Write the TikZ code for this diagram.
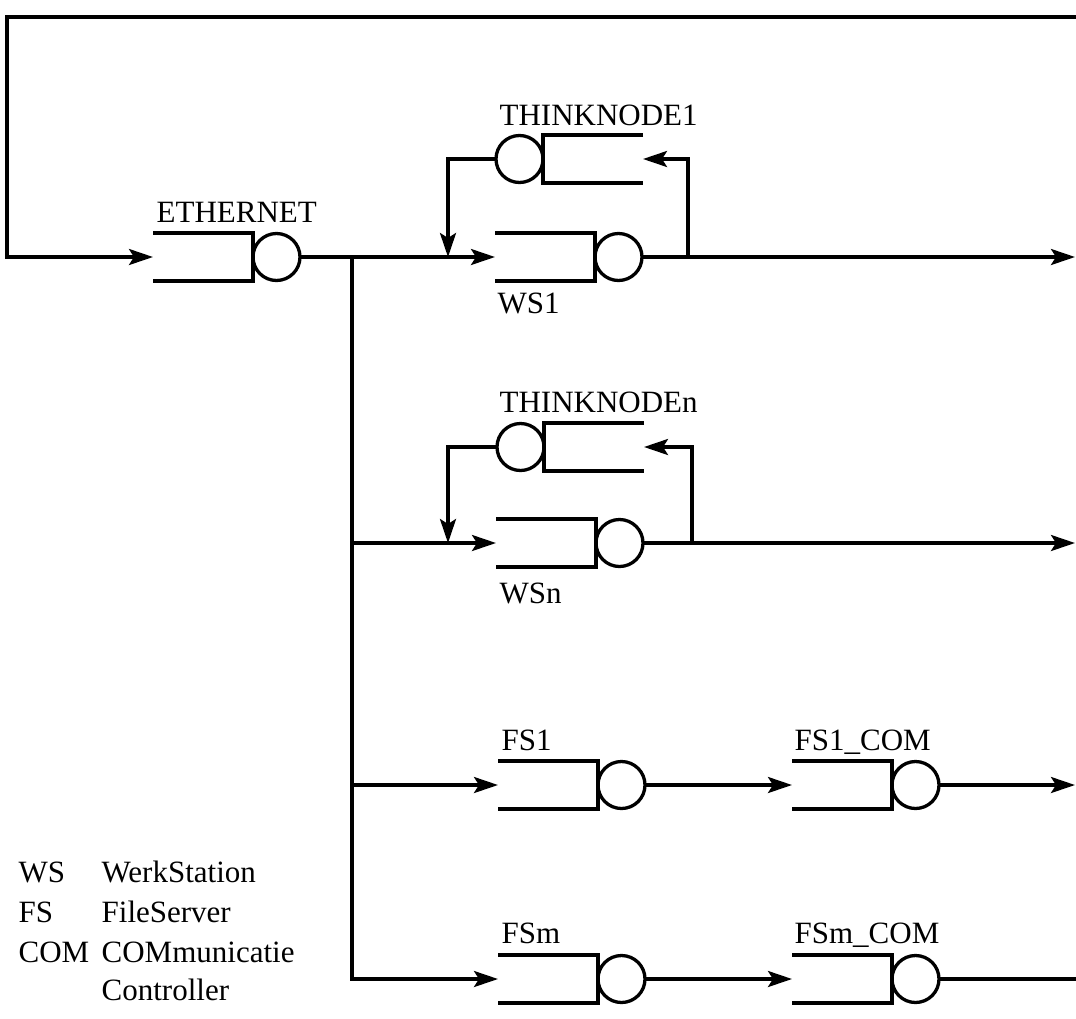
\documentclass[tikz,border=0pt]{standalone}
\usepackage{fontspec}
\setmainfont{Liberation Serif}
\usetikzlibrary{arrows.meta}
\begin{document}
\begin{tikzpicture}[x=1pt,y=-1pt, line width=3.3pt, line join=miter,
  qbox/.style={draw=none, rectangle, minimum width=100pt, minimum height=48pt, inner sep=0pt, outer sep=0pt},
  srv/.style={circle, draw, minimum size=47pt, inner sep=0pt, outer sep=0pt},
  lbl/.style={inner sep=0pt, anchor=base west, font=\fontsize{31}{37}\selectfont},
  flow/.style={-{Stealth[length=24pt,width=16pt,inset=5pt]}},
]
\useasboundingbox (0,0) rectangle (1076,1018);

% queue opening to the left, server on the right
\newcommand\queueR[3]{%
  \node[qbox] (#1q) at (#2,#3) {};
  \node[srv, anchor=west] (#1c) at (#1q.east) {};
  \draw (#1q.north west) -- (#1q.north east) -- (#1q.south east) -- (#1q.south west);
}
% queue opening to the right, server on the left
\newcommand\queueL[3]{%
  \node[qbox] (#1q) at (#2,#3) {};
  \node[srv, anchor=east] (#1c) at (#1q.west) {};
  \draw (#1q.north east) -- (#1q.north west) -- (#1q.south west) -- (#1q.south east);
}

\queueR{eth}{203}{257}
\queueR{wsa}{545}{257}
\queueL{tna}{593}{159}
\queueR{wsn}{546}{543}
\queueL{tnn}{594}{447}
\queueR{fsa}{548}{785}
\queueR{fsacom}{842}{785}
\queueR{fsm}{548}{979}
\queueR{fsmcom}{842}{979}

% labels
\node[lbl] (leth) at (155,222) {ETHERNET};
\node[lbl] (lwsa) at (496,313) {WS1};
\node[lbl] (ltna) at (498,125) {THINKNODE1};
\node[lbl] (lwsn) at (498,603) {WSn};
\node[lbl] (ltnn) at (498,412) {THINKNODEn};
\node[lbl] (lfsa) at (500,750) {FS1};
\node[lbl] (lfsacom) at (793,750) {FS1\_COM};
\node[lbl] (lfsm) at (500,943) {FSm};
\node[lbl] (lfsmcom) at (793,943) {FSm\_COM};

% legend
\node[lbl] (k1) at (17,882) {WS};
\node[lbl] (v1) at (100,882) {WerkStation};
\node[lbl] (k2) at (17,922) {FS};
\node[lbl] (v2) at (100,922) {FileServer};
\node[lbl] (k3) at (17,962) {COM};
\node[lbl] (v3) at (100,962) {COMmunicatie};
\node[lbl] (v4) at (100,1000) {Controller};

% coordinates
\coordinate (tR) at (1076,17);
\coordinate (tL) at (7,17);
\coordinate (jE) at (352,257);
\coordinate (jN) at (352,543);
\coordinate (jF) at (352,785);
\coordinate (ia) at (448,257);
\coordinate (in) at (448,543);
\coordinate (oa) at (688,257);
\coordinate (on) at (692,543);
\coordinate (ra) at (1075,257);
\coordinate (rn) at (1075,543);
\coordinate (rf) at (1075,785);
\coordinate (rm) at (1076,979);

% connectors
\draw[flow] (tR) -- (tL) |- (ethq.west);
\draw[flow] (ethc.east) -- (wsaq.west);
\draw[flow] (jE) |- (fsmq.west);
\draw[flow] (jN) -- (wsnq.west);
\draw[flow] (jF) -- (fsaq.west);

\draw[flow] (wsac.east) -- (ra);
\draw[flow] (oa) |- (tnaq.east);
\draw[flow] (tnac.west) -| (ia);

\draw[flow] (wsnc.east) -- (rn);
\draw[flow] (on) |- (tnnq.east);
\draw[flow] (tnnc.west) -| (in);

\draw[flow] (fsac.east) -- (fsacomq.west);
\draw[flow] (fsacomc.east) -- (rf);
\draw[flow] (fsmc.east) -- (fsmcomq.west);
\draw (fsmcomc.east) -- (rm);
\end{tikzpicture}
\end{document}
